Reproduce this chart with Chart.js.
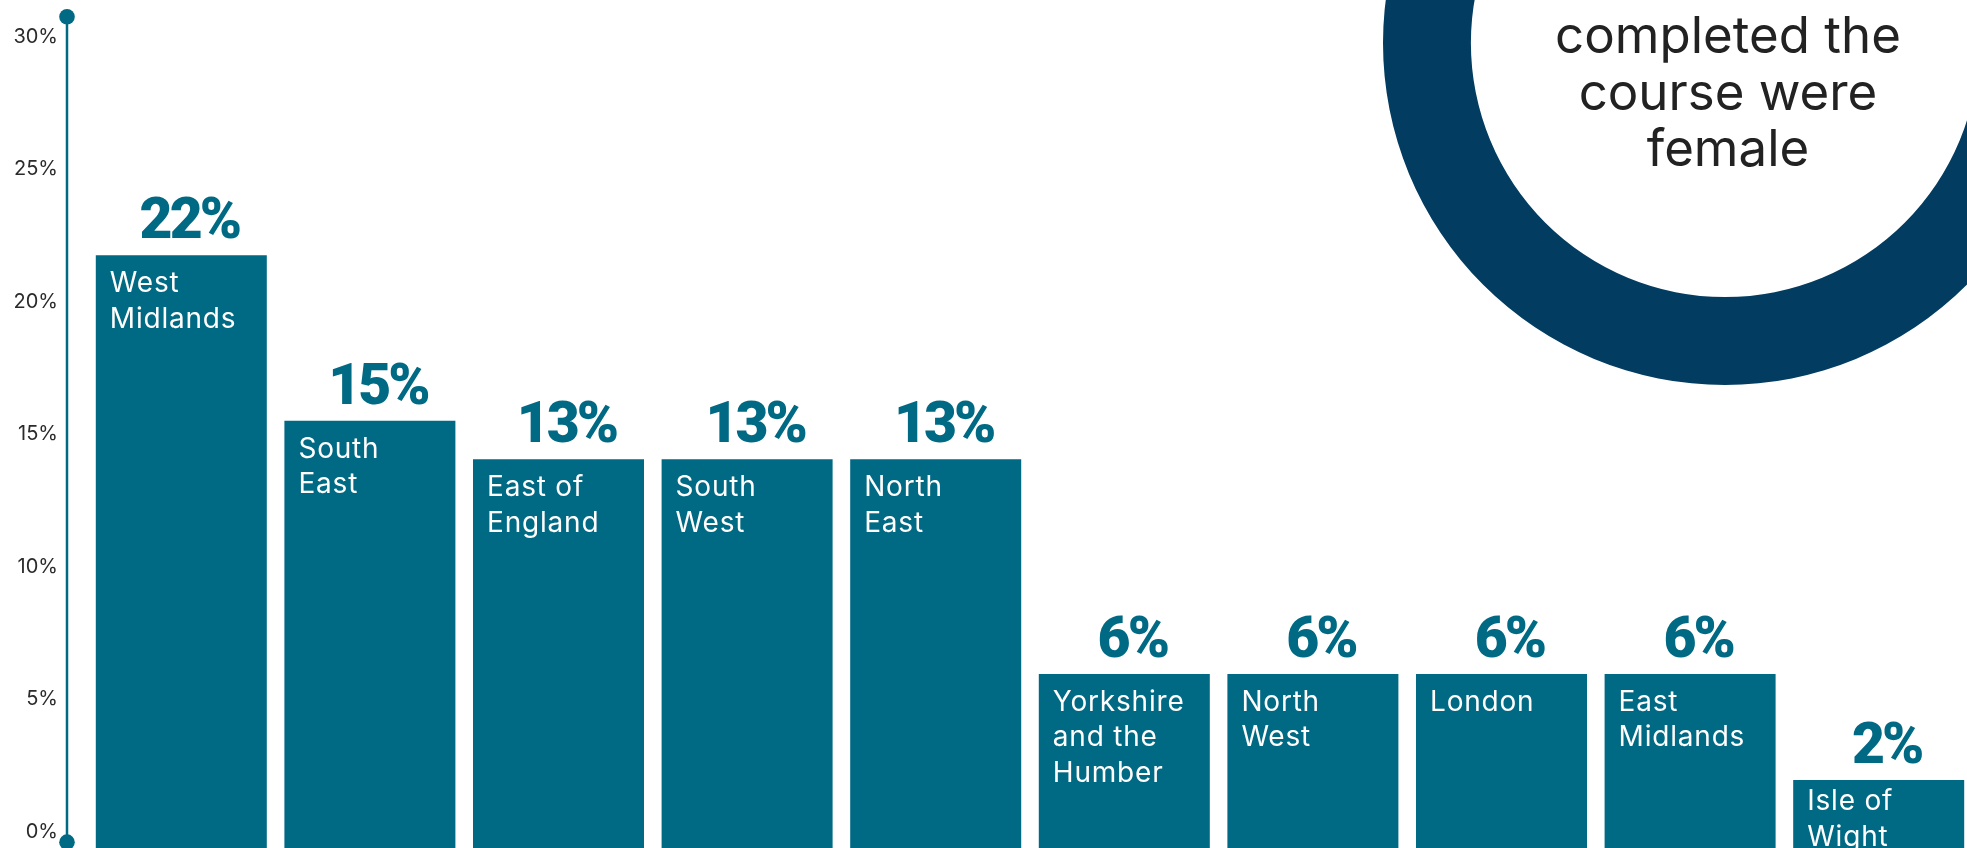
<!DOCTYPE html>
<html><head><meta charset="utf-8">
<script src="https://cdn.jsdelivr.net/npm/chart.js@4.4.1/dist/chart.umd.min.js"></script>
<style>
html,body{margin:0;padding:0;background:#fff;overflow:hidden;}
#wrap{position:relative;width:1967px;height:848px;overflow:hidden;background:#fff;}
#bars{position:absolute;left:0;top:0;}
#ring{position:absolute;left:1383px;top:-299px;}
</style></head><body>
<div id="wrap"><canvas id="bars" width="1973" height="848"></canvas><canvas id="ring" width="684" height="684"></canvas></div>
<script>
// ---- data ----
const regions = [
  ["West","Midlands"], ["South","East"], ["East of","England"], ["South","West"], ["North","East"],
  ["Yorkshire","and the","Humber"], ["North","West"], ["London"], ["East","Midlands"], ["Isle of","Wight"]
];
const barValues = [21.75, 15.5, 14.05, 14.05, 14.05, 5.95, 5.95, 5.95, 5.95, 1.95];
const valueLabels = ["22%","15%","13%","13%","13%","6%","6%","6%","6%","2%"];
const yTicks = [0, 5, 10, 15, 20, 25, 30];
const ringValues = [100];
const ringText = ["completed the", "course were", "female"];

// ---- styles ----
const TEAL = "#006983";
const NAVY = "#023c61";
const Y_MIN = -0.62, Y_MAX = 31.38;
const AXIS_RANGE = [-0.4, 30.75];
const AXIS_GAP = 20;

const barLabelPlugin = {
  id: "barLabels",
  afterDatasetsDraw(chart) {
    const ctx = chart.ctx;
    const meta = chart.getDatasetMeta(0);
    ctx.save();
    meta.data.forEach((bar, i) => {
      const {x, y, base, width} = bar.getProps(["x", "y", "base", "width"], true);
      ctx.font = "900 57px Roboto";
      ctx.letterSpacing = "-3px";
      ctx.fillStyle = TEAL;
      ctx.textAlign = "center";
      ctx.textBaseline = "alphabetic";
      ctx.fillText(valueLabels[i], x + 8, y - 17);

      ctx.font = "400 28px Inter";
      ctx.letterSpacing = "0.8px";
      ctx.fillStyle = "#ffffff";
      ctx.textAlign = "left";
      const lines = regions[i];
      const h = base - y;
      const first = Math.min(37, h - 35.5 * (lines.length - 1) - 2.5);
      lines.forEach((ln, k) => ctx.fillText(ln, x - width / 2 + 14, y + first + k * 35.5));
    });
    ctx.restore();
  }
};

const axisPlugin = {
  id: "axisLine",
  afterDatasetsDraw(chart) {
    const ctx = chart.ctx;
    const ys = chart.scales.y;
    const x = chart.chartArea.left - AXIS_GAP;
    const yTop = ys.getPixelForValue(AXIS_RANGE[1]);
    const yBot = ys.getPixelForValue(AXIS_RANGE[0]);
    ctx.save();
    ctx.strokeStyle = TEAL;
    ctx.fillStyle = TEAL;
    ctx.lineWidth = 2.5;
    ctx.beginPath();
    ctx.moveTo(x, yTop);
    ctx.lineTo(x, yBot);
    ctx.stroke();
    [yTop, yBot].forEach(py => {
      ctx.beginPath();
      ctx.arc(x, py, 7.8, 0, Math.PI * 2);
      ctx.fill();
    });
    ctx.restore();
  }
};

new Chart(document.getElementById("bars"), {
  type: "bar",
  data: {
    labels: regions,
    datasets: [{
      data: barValues,
      backgroundColor: TEAL,
      borderWidth: 0,
      base: Y_MIN,
      barPercentage: 0.9067,
      categoryPercentage: 1.0
    }]
  },
  options: {
    responsive: false,
    devicePixelRatio: 1,
    animation: false,
    events: [],
    layout: { padding: 0 },
    plugins: { legend: { display: false }, tooltip: { enabled: false } },
    scales: {
      x: { display: false },
      y: {
        min: Y_MIN, max: Y_MAX,
        afterBuildTicks: s => { s.ticks = yTicks.map(v => ({ value: v })); },
        afterFit: s => { s.width = 87; s.paddingTop = 0; s.paddingBottom = 0; },
        grid: { display: false, drawTicks: false },
        border: { display: false },
        ticks: {
          padding: 29,
          color: "#2b2b2b",
          font: { family: "Inter", size: 20 },
          callback: v => v + "%"
        }
      }
    }
  },
  plugins: [axisPlugin, barLabelPlugin]
});

const ringTextPlugin = {
  id: "ringText",
  afterDraw(chart) {
    const arc = chart.getDatasetMeta(0).data[0];
    const ctx = chart.ctx;
    ctx.save();
    ctx.font = "400 51px Inter";
    ctx.fillStyle = "#222222";
    ctx.textAlign = "center";
    ctx.textBaseline = "alphabetic";
    ringText.forEach((t, k) => ctx.fillText(t, arc.x + 3, arc.y + 10 + k * 56.7));
    ctx.restore();
  }
};

new Chart(document.getElementById("ring"), {
  type: "doughnut",
  data: { labels: ["female"], datasets: [{ data: ringValues, backgroundColor: NAVY, borderWidth: 0 }] },
  options: {
    responsive: false,
    devicePixelRatio: 1,
    animation: false,
    events: [],
    cutout: "74.3%",
    layout: { padding: 0 },
    plugins: { legend: { display: false }, tooltip: { enabled: false } }
  },
  plugins: [ringTextPlugin]
});
</script>
</body></html>
